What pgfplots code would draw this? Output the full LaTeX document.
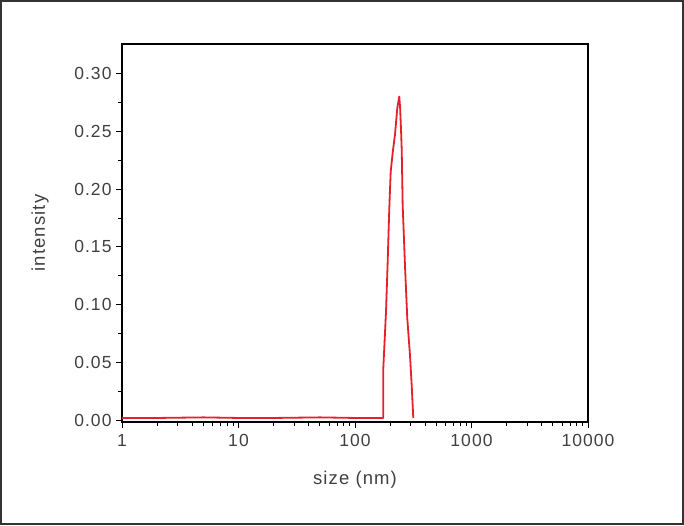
\documentclass[border=0pt]{standalone}
\usepackage{pgfplots}
\pgfplotsset{compat=1.18}
\usepackage{fontspec}
\setmainfont{Liberation Sans}[LetterSpace=6]
\definecolor{tickgray}{HTML}{404040}
\definecolor{curvered}{HTML}{E5202A}
\begin{document}
\begin{tikzpicture}
\begin{axis}[
  scale only axis,
  width=466pt, height=378pt,
  xmode=log, xmin=1, xmax=10000,
  ymin=-0.0015, ymax=0.3255,
  xtick={1,10,100,1000,10000},
  xticklabels={1,10,100,1000,10000},
  minor xtick={2,3,4,5,6,7,8,9,20,30,40,50,60,70,80,90,200,300,400,500,600,700,800,900,2000,3000,4000,5000,6000,7000,8000,9000},
  ytick={0,0.05,0.10,0.15,0.20,0.25,0.30},
  minor ytick={0.025,0.075,0.125,0.175,0.225,0.275},
  yticklabel style={/pgf/number format/.cd,fixed,fixed zerofill,precision=2,/tikz/.cd, xshift=-1pt},
  /pgf/number format/assume math mode=true,
  tick align=outside,
  major tick length=6pt, minor tick length=4pt,
  tick style={black, line width=0.9pt},
  axis line style={line width=1.1pt},
  xtick pos=bottom, ytick pos=left,
  tick label style={font=\fontsize{17.5}{19}\selectfont, text=tickgray},
  xticklabel style={yshift=-3pt},
  xlabel={size (nm)}, ylabel={intensity},
  every axis x label/.style={at={(axis description cs:0.5,0)}, yshift=-58pt, anchor=center, font=\fontsize{18.5}{20}\selectfont, text=tickgray},
  every axis y label/.style={at={(axis description cs:0,0.5)}, xshift=-82pt, anchor=center, rotate=90, font=\fontsize{18.5}{20}\selectfont, text=tickgray},
  clip=false,
]
\addplot[curvered, line width=1.8pt, line join=round] coordinates {
(1,0.002) (2,0.002) (5,0.0025) (10,0.002) (20,0.002) (50,0.0025) (100,0.002) (150,0.002) (175,0.002)
(175,0.045) (184.6,0.094) (190.8,0.137) (196.9,0.183) (202.5,0.215) (210.9,0.232) (220.4,0.247) (230.6,0.270) (240,0.280)
(244,0.270) (248.2,0.252) (251.8,0.234) (256.6,0.186) (268.5,0.134) (281.1,0.088) (296.6,0.056) (306.4,0.031) (316.4,0.002)
};
\end{axis}
\draw[line width=1.6pt, color=black!80] (-121.2pt,-102.2pt) rectangle (561.2pt,421.2pt);
\end{tikzpicture}
\end{document}
